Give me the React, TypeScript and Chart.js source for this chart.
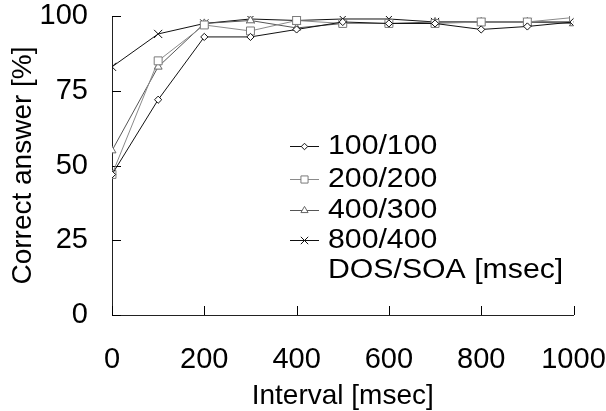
import React, { useEffect, useRef } from 'react';
import { Chart, registerables } from 'chart.js';

Chart.register(...registerables);

const intervals = [0, 100, 200, 300, 400, 500, 600, 700, 800, 900, 1000];
const seriesLabels = ['100/100', '200/200', '400/300', '800/400'];
const s100 = [47, 72, 93, 93, 95.5, 98, 97.5, 97.5, 95.5, 96.5, 98];
const s200 = [47, 85, 97, 95, 98.5, 97.5, 97.5, 97.5, 98, 98, 99.5];
const s400 = [55, 83, 97.5, 98.5, 96, 97.5, 97.5, 98, 98, 98, 97.5];
const s800 = [83, 94, 97.5, 99, 98.5, 99, 99, 98, 98, 98, 98];
const xTicks = [0, 200, 400, 600, 800, 1000];
const yTicks = [0, 25, 50, 75, 100];
const legendNote = 'DOS/SOA [msec]';
const xTitle = 'Interval [msec]';
const yTitle = 'Correct answer [%]';

const FONT = "'Liberation Sans', Arial, sans-serif";

const styles = [
  { pointStyle: 'rectRot', radius: 3.6, line: '#111', point: '#111' },
  { pointStyle: 'rect', radius: 5.6, line: '#8a8a8a', point: '#7a7a7a' },
  { pointStyle: 'triangle', radius: 4.6, line: '#555', point: '#666' },
  { pointStyle: 'crossRot', radius: 5.8, line: '#111', point: '#111' },
];

function drawMarker(ctx: CanvasRenderingContext2D, style: string, x: number, y: number, r: number, color: string) {
  ctx.save();
  ctx.strokeStyle = color;
  ctx.fillStyle = '#fff';
  ctx.lineWidth = 1;
  ctx.beginPath();
  if (style === 'rectRot') {
    ctx.moveTo(x - r, y);
    ctx.lineTo(x, y - r);
    ctx.lineTo(x + r, y);
    ctx.lineTo(x, y + r);
    ctx.closePath();
    ctx.fill();
    ctx.stroke();
  } else if (style === 'rect') {
    const s = r * Math.SQRT1_2;
    ctx.rect(x - s, y - s, 2 * s, 2 * s);
    ctx.fill();
    ctx.stroke();
  } else if (style === 'triangle') {
    const w = r * Math.sqrt(3) / 2;
    ctx.moveTo(x, y - r);
    ctx.lineTo(x + w, y + r / 2);
    ctx.lineTo(x - w, y + r / 2);
    ctx.closePath();
    ctx.fill();
    ctx.stroke();
  } else {
    const d = r * Math.SQRT1_2;
    ctx.moveTo(x - d, y - d);
    ctx.lineTo(x + d, y + d);
    ctx.moveTo(x + d, y - d);
    ctx.lineTo(x - d, y + d);
    ctx.stroke();
  }
  ctx.restore();
}

const decorPlugin = {
  id: 'decor',
  beforeDatasetsDraw(chart: any) {
    const { ctx, chartArea, scales } = chart;
    ctx.save();
    ctx.strokeStyle = '#000';
    ctx.lineWidth = 1;
    ctx.beginPath();
    for (const v of xTicks) {
      const px = Math.round(scales.x.getPixelForValue(v)) + 0.5;
      ctx.moveTo(px, chartArea.bottom);
      ctx.lineTo(px, chartArea.bottom - 9);
    }
    for (const v of yTicks) {
      const py = Math.round(scales.y.getPixelForValue(v)) + 0.5;
      ctx.moveTo(chartArea.left, py);
      ctx.lineTo(chartArea.left + 9, py);
    }
    ctx.stroke();
    ctx.restore();
  },
  afterDraw(chart: any) {
    const { ctx } = chart;
    const lx0 = 290;
    const lx1 = 319;
    const tx = 328;
    const rows = [146, 179, 210, 240];
    const sx = 1.12;
    ctx.save();
    seriesLabels.forEach((label, i) => {
      const y = rows[i] + 0.5;
      const st = styles[i];
      ctx.strokeStyle = st.line;
      ctx.lineWidth = 1;
      ctx.beginPath();
      ctx.moveTo(lx0, y);
      ctx.lineTo(lx1, y);
      ctx.stroke();
      drawMarker(ctx, st.pointStyle, (lx0 + lx1) / 2, y, st.radius * 0.9, st.point);
    });
    ctx.font = `27px ${FONT}`;
    ctx.fillStyle = '#000';
    ctx.textBaseline = 'middle';
    ctx.textAlign = 'left';
    ctx.scale(sx, 1);
    seriesLabels.forEach((label, i) => {
      ctx.fillText(label, tx / sx, rows[i] + 1);
    });
    ctx.fillText(legendNote, tx / sx, 271);
    ctx.restore();
  },
};

const allSeries = [s100, s200, s400, s800];

function zeroPad(scale: any) {
  scale.paddingTop = 0;
  scale.paddingBottom = 0;
  scale.paddingLeft = 0;
  scale.paddingRight = 0;
}

export default function App() {
  const ref = useRef<HTMLCanvasElement | null>(null);
  useEffect(() => {
    if (!ref.current) return;
    const chart = new Chart(ref.current, {
      type: 'line',
      data: {
        datasets: allSeries.map((s, i) => ({
          label: seriesLabels[i],
          data: intervals.map((x, j) => ({ x, y: s[j] })),
          borderColor: styles[i].line,
          borderWidth: 1,
          pointStyle: styles[i].pointStyle as any,
          pointRadius: styles[i].radius,
          pointBorderColor: styles[i].point,
          pointBackgroundColor: '#fff',
          pointBorderWidth: 1,
          fill: false,
          tension: 0,
        })),
      },
      options: {
        animation: false,
        responsive: true,
        maintainAspectRatio: false,
        layout: { padding: { top: 16, right: 32.5, bottom: 0, left: 0 } },
        plugins: {
          legend: { display: false },
          tooltip: { enabled: false },
        },
        scales: {
          x: {
            type: 'linear',
            min: 0,
            max: 1000,
            afterBuildTicks: (scale: any) => {
              scale.ticks = xTicks.map((v) => ({ value: v }));
            },
            afterFit: (scale: any) => {
              scale.height = 96;
              zeroPad(scale);
            },
            grid: { display: false, drawTicks: false },
            border: { display: true, color: '#222', width: 1 },
            ticks: {
              color: '#000',
              padding: 30,
              maxRotation: 0,
              autoSkip: false,
              callback: (v: any) => String(v),
              font: { family: FONT, size: 29, lineHeight: 1 },
            },
            title: {
              display: true,
              text: xTitle,
              color: '#000',
              font: { family: FONT, size: 28, lineHeight: 1.2 },
              padding: { top: 0, bottom: -2 },
            },
          },
          y: {
            type: 'linear',
            min: 0,
            max: 100,
            afterBuildTicks: (scale: any) => {
              scale.ticks = yTicks.map((v) => ({ value: v }));
            },
            afterFit: (scale: any) => {
              scale.width = 112;
              zeroPad(scale);
            },
            grid: { display: false, drawTicks: false },
            border: { display: true, color: '#222', width: 1 },
            ticks: {
              color: '#000',
              padding: 24,
              callback: (v: any) => String(v),
              font: { family: FONT, size: 29, lineHeight: 1 },
            },
            title: {
              display: true,
              text: yTitle,
              color: '#000',
              font: { family: FONT, size: 28, lineHeight: 1.2 },
              padding: { top: 6, bottom: 0 },
            },
          },
        },
      },
      plugins: [decorPlugin],
    });
    return () => chart.destroy();
  }, []);
  return (
    <div style={{ position: 'fixed', left: 0, top: 0, width: 606, height: 411, background: '#fff' }}>
      <canvas ref={ref} />
    </div>
  );
}
